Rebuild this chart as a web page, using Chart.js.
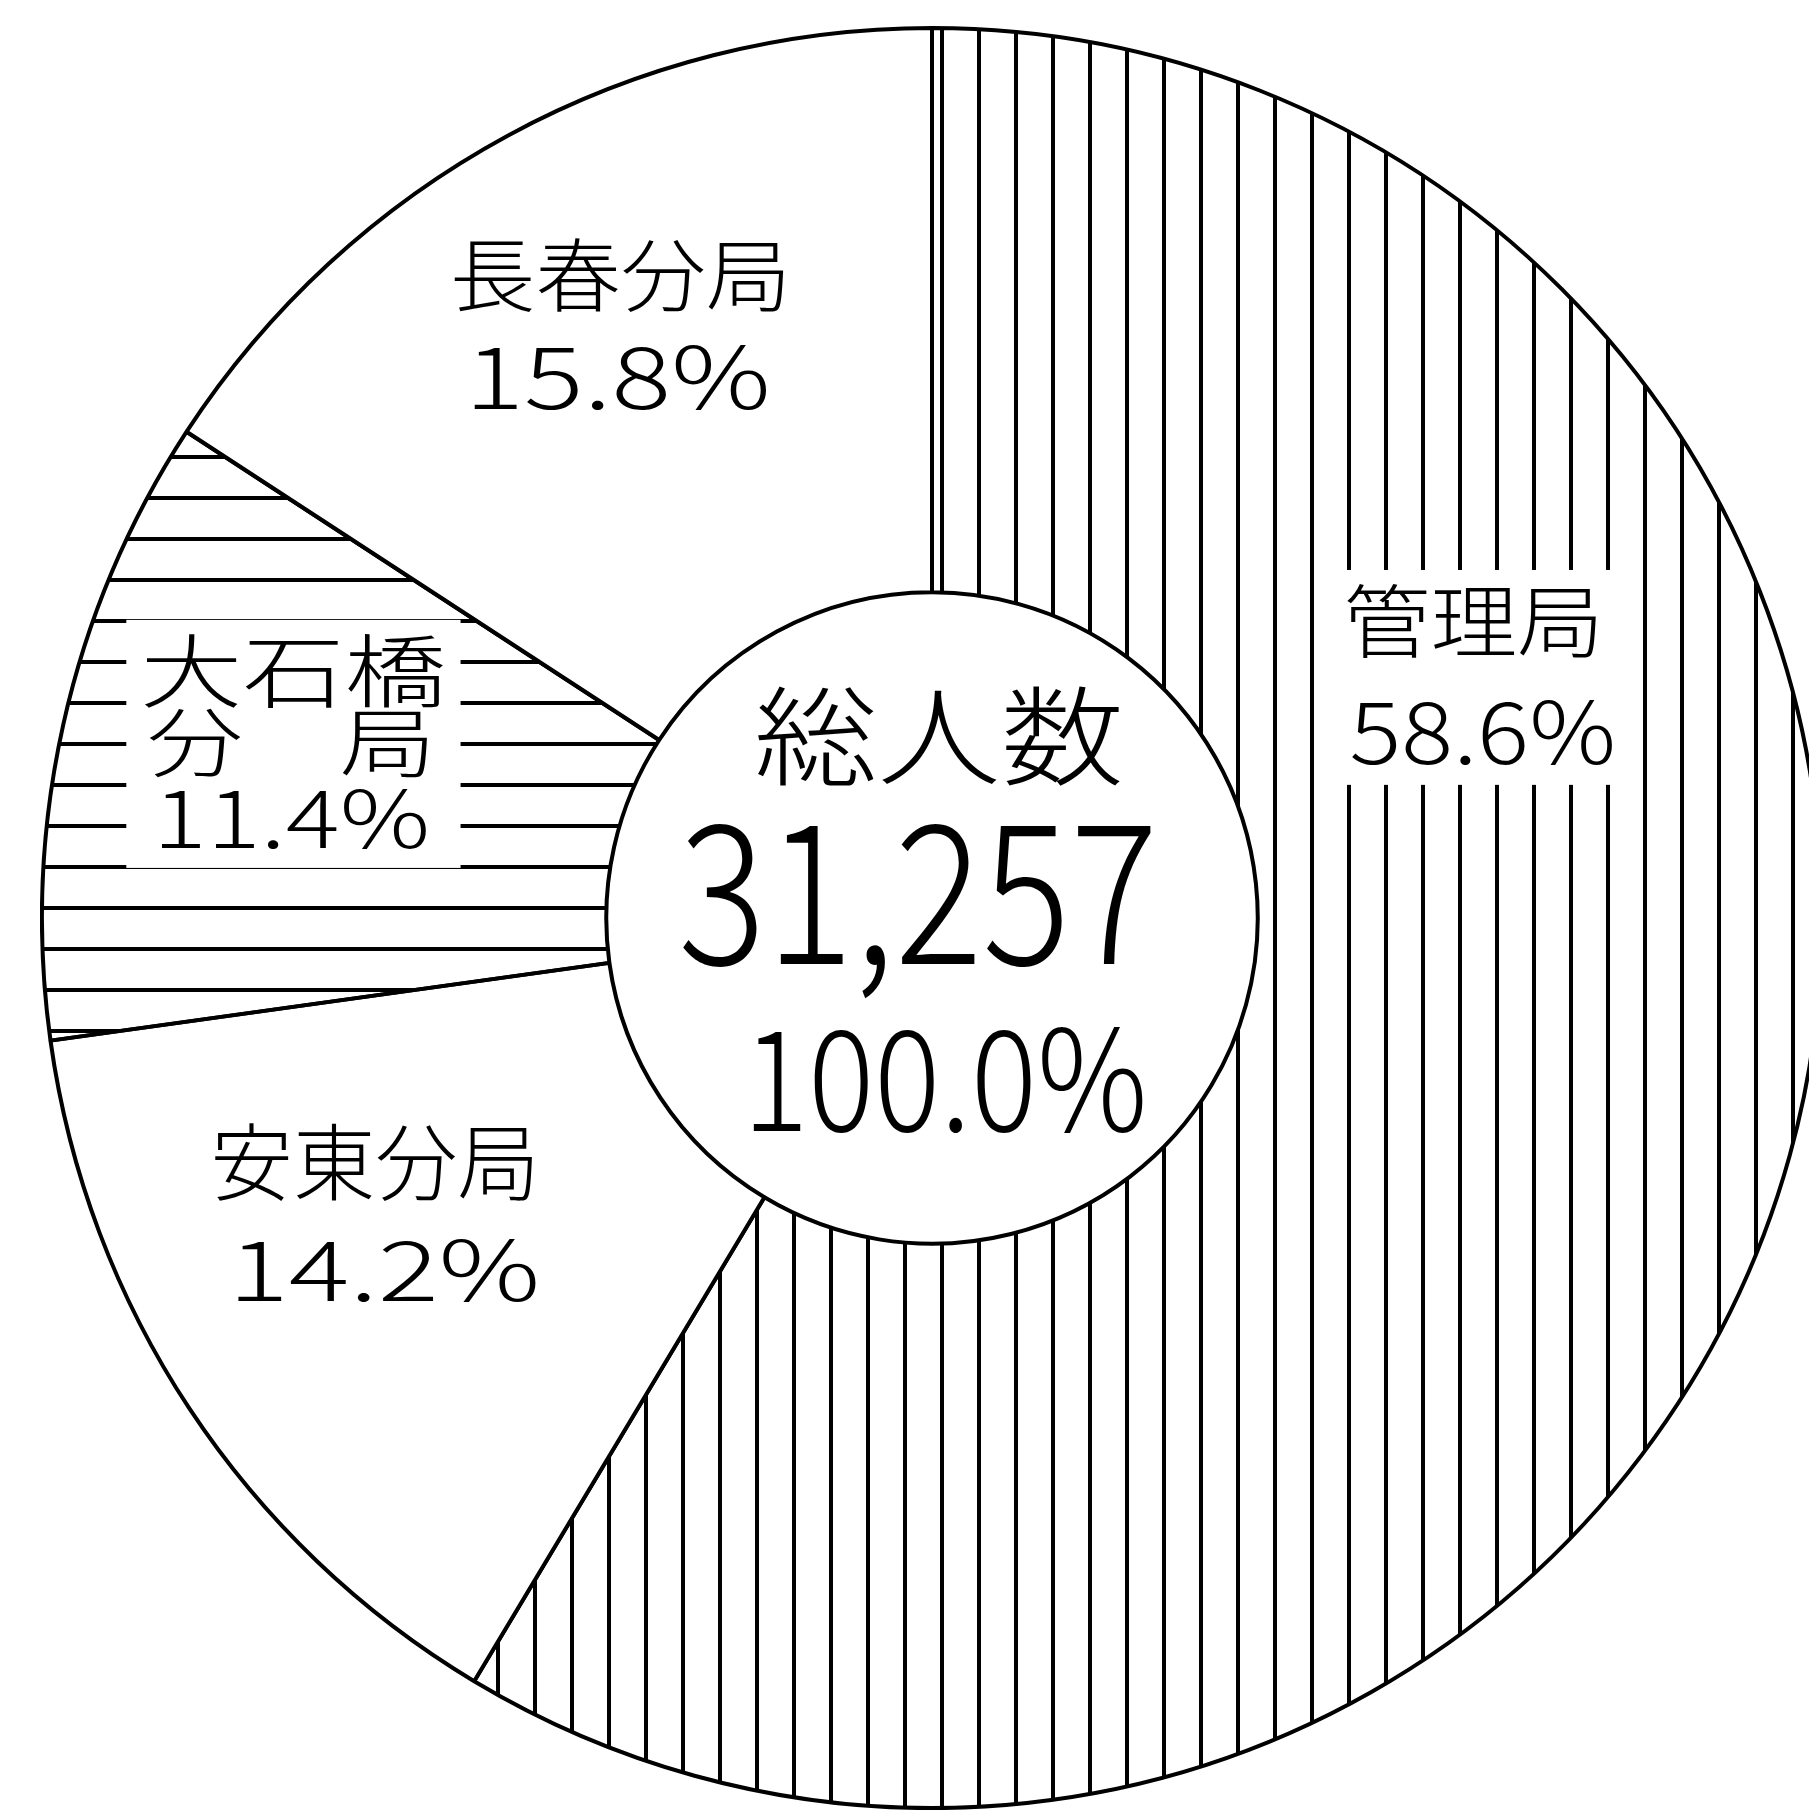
<!DOCTYPE html>
<html>
<head>
<meta charset="utf-8">
<script src="https://cdn.jsdelivr.net/npm/chart.js@4/dist/chart.umd.min.js"></script>
<style>
  html, body { margin: 0; padding: 0; background: #fff; overflow: hidden; width: 1809px; height: 1818px; }
  #wrap { position: absolute; left: 40px; top: 26px; width: 1784px; height: 1784px; }
</style>
</head>
<body>
<div id="wrap"><canvas id="pieChart"></canvas></div>
<script>
'use strict';

// data
const branches    = ['管理局', '安東分局', '大石橋分局', '長春分局'];
const shares      = [58.6, 14.2, 11.4, 15.8];
const labelNames  = [['管理局'], ['安東分局'], ['大石橋', '分　局'], ['長春分局']];
const shareLabels = ['58.6%', '14.2%', '11.4%', '15.8%'];
const centerTitle = '総人数';
const totalPeople = '31,257';
const totalShare  = '100.0%';

// hatch fills: 0 = vertical lines, 2 = horizontal lines
function makeHatch(dir) {
  const c = document.createElement('canvas');
  const g = c.getContext('2d');
  g.fillStyle = '#000';
  if (dir === 'v') {
    c.width = 37; c.height = 37;
    g.fillStyle = '#000';
    g.fillRect(12, 0, 4, 37);
  } else {
    c.width = 41; c.height = 41;
    g.fillStyle = '#000';
    g.fillRect(0, 19, 41, 4);
  }
  return g.createPattern(c, 'repeat');
}
const fills = [makeHatch('v'), '#ffffff', makeHatch('h'), '#ffffff'];

// label layout, px offsets from centre at R = 892 : [dx, dy, fontSize, width]
const FONT = '"Noto Sans CJK JP", "Noto Sans CJK SC", sans-serif';
const labelLayout = [
  [[543, -298, 80, 261], [552, -187, 86, 267]],
  [[-558, 245, 84, 330], [-549, 352, 84, 313]],
  [[-640, -248, 80, 307], [-642, -176, 76, 290], [-642, -101, 80, 278]],
  [[-312, -645, 80, 342], [-315, -543, 86, 307]]
];
const centerLayout = [[7, -182, 108, 371], [-14, -28, 195, 481], [13, 160, 140, 406]];
const whiteBehind = [true, false, true, false];

function drawLine(ctx, text, x, y, size, width) {
  ctx.font = `300 ${size}px ${FONT}`;
  const m = ctx.measureText(text).width;
  ctx.save();
  ctx.translate(x, y);
  ctx.scale(width / m, 1);
  ctx.fillText(text, 0, 0);
  ctx.restore();
}

const labelPlugin = {
  id: 'sliceLabels',
  afterDatasetsDraw(chart) {
    const ctx = chart.ctx;
    const arc = chart.getDatasetMeta(0).data[0];
    const cx = arc.x, cy = arc.y, k = arc.outerRadius / 892;
    ctx.save();
    ctx.textAlign = 'center';
    ctx.textBaseline = 'middle';
    ctx.fillStyle = '#000';

    branches.forEach((name, i) => {
      const lines = labelNames[i].concat([shareLabels[i]]);
      const spots = labelLayout[i];
      if (whiteBehind[i]) {
        const pad = 14;
        let x0 = Infinity, x1 = -Infinity, y0 = Infinity, y1 = -Infinity;
        spots.forEach(([dx, dy, s, w]) => {
          x0 = Math.min(x0, dx - w / 2); x1 = Math.max(x1, dx + w / 2);
          y0 = Math.min(y0, dy - s * 0.46); y1 = Math.max(y1, dy + s * 0.46);
        });
        ctx.fillStyle = '#fff';
        ctx.fillRect(cx + (x0 - pad) * k, cy + (y0 - pad) * k, (x1 - x0 + 2 * pad) * k, (y1 - y0 + 2 * pad) * k);
        ctx.fillStyle = '#000';
      }
      lines.forEach((t, j) => {
        const [dx, dy, s, w] = spots[j];
        drawLine(ctx, t, cx + dx * k, cy + dy * k, s * k, w * k);
      });
    });

    [centerTitle, totalPeople, totalShare].forEach((t, j) => {
      const [dx, dy, s, w] = centerLayout[j];
      drawLine(ctx, t, cx + dx * k, cy + dy * k, s * k, w * k);
    });
    ctx.restore();
  }
};

new Chart(document.getElementById('pieChart'), {
  type: 'doughnut',
  data: {
    labels: branches,
    datasets: [{
      data: shares,
      backgroundColor: fills,
      borderColor: '#000',
      borderWidth: 4,
      hoverOffset: 0
    }]
  },
  options: {
    responsive: true,
    maintainAspectRatio: false,
    cutout: '36.6%',
    animation: false,
    layout: { padding: 0 },
    plugins: {
      legend: { display: false },
      tooltip: { enabled: false }
    }
  },
  plugins: [labelPlugin]
});
</script>
</body>
</html>
